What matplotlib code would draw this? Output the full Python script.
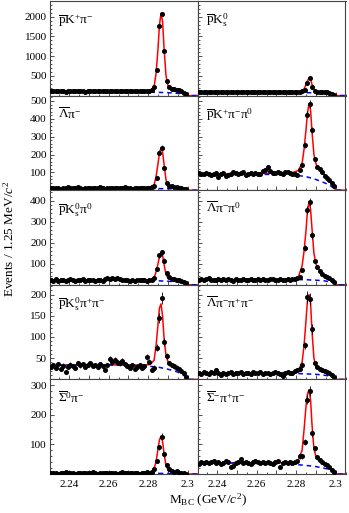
import numpy as np
import matplotlib
matplotlib.use('Agg')
import matplotlib.pyplot as plt
from matplotlib.ticker import MultipleLocator, AutoMinorLocator, FuncFormatter

plt.rcParams['font.family'] = ['Liberation Serif', 'DejaVu Serif']
plt.rcParams['mathtext.fontset'] = 'custom'
plt.rcParams['mathtext.rm'] = 'Liberation Serif'
plt.rcParams['mathtext.it'] = 'Liberation Serif:italic'
plt.rcParams['mathtext.bf'] = 'Liberation Serif:bold'

# bins of 1.25 MeV starting at 2.23 GeV
bin_width = 0.00125
bin_centers = 2.230625 + bin_width * np.arange(56)

# nodes of the fit curves
curve_x = [2.2300, 2.2400, 2.2500, 2.2600, 2.2700, 2.2780, 2.2810, 2.2830, 2.2840, 2.2850,
           2.2857, 2.2865, 2.2873, 2.2880, 2.2890, 2.2900, 2.2910, 2.2930, 2.2950, 2.2970,
           2.2985, 2.3000, 2.3050]
bkg_x = [2.230, 2.240, 2.250, 2.260, 2.270, 2.280, 2.285, 2.290, 2.294, 2.297, 2.299, 2.300, 2.305]

labels = [r'$\overline{\rm p}$K$^{+}$π$^{-}$', r'$\overline{\rm p}$K$^{0}_{\rm s}$',
          r'$\overline{\rm Λ}$π$^{-}$', r'$\overline{\rm p}$K$^{+}$π$^{-}$π$^{0}$',
          r'$\overline{\rm p}$K$^{0}_{\rm s}$π$^{0}$', r'$\overline{\rm Λ}$π$^{-}$π$^{0}$',
          r'$\overline{\rm p}$K$^{0}_{\rm s}$π$^{+}$π$^{-}$', r'$\overline{\rm Λ}$π$^{-}$π$^{+}$π$^{-}$',
          r'$\overline{\rm Σ}^{0}$π$^{-}$', r'$\overline{\rm Σ}^{-}$π$^{+}$π$^{-}$']

row_ymax = [2400, 530, 450, 223, 320]
row_major = [500, 100, 100, 50, 100]

# data points (events per bin)
pkpi = [112, 105, 118, 108, 110, 122, 104, 115, 109, 113, 120, 107, 111, 116, 103, 118, 112, 109,
        121, 106, 114, 110, 117, 108, 113, 119, 105, 111, 116, 109, 114, 107, 112, 118, 110, 106,
        115, 111, 108, 117, 120, 135,
        210, 650, 1760, 2080, 1130, 380, 215, 180, 165, 150, 130, 110, 75, 30]
pks = [88, 95, 82, 91, 97, 86, 90, 84, 93, 99, 87, 92, 85, 90, 96, 83, 91, 88, 94, 86, 92, 98,
       85, 89, 93, 87, 95, 90, 84, 91, 97, 88, 86, 92, 89, 95, 87, 90, 93, 88, 92, 98,
       105, 150, 320, 450, 220, 110, 95, 92, 88, 85, 80, 70, 50, 20]
lampi = [13, 10, 15, 12, 9, 14, 11, 16, 12, 10, 13, 17, 11, 9, 14, 12, 15, 10, 13, 11, 16, 12,
         9, 14, 13, 11, 15, 10, 12, 14, 16, 11, 13, 9, 12, 15, 11, 14, 10, 13, 12, 16,
         22, 69, 210, 238, 122, 41, 26, 22, 19, 17, 15, 12, 9, 4]
pkpipi0 = [94, 88, 92, 97, 90, 85, 93, 99, 76, 88, 95, 82, 86, 91, 100, 97, 89, 94, 102, 87, 93,
           96, 90, 98, 92, 88, 105, 112, 131, 107, 99, 94, 100, 96, 91, 104, 100, 95, 88, 92, 85, 115,
           141, 254, 423, 483, 338, 173, 131, 118, 103, 81, 69, 56, 41, 23]
pkspi0 = [24, 20, 26, 19, 22, 25, 18, 23, 27, 21, 19, 24, 22, 26, 20, 23, 25, 21, 18, 24, 22, 19,
          28, 31, 26, 33, 29, 30, 27, 24, 22, 25, 20, 23, 19, 22, 24, 21, 23, 20, 22, 25,
          30, 75, 140, 155, 115, 55, 35, 28, 26, 24, 21, 18, 14, 7]
lampipi0 = [24, 28, 22, 26, 30, 23, 25, 21, 27, 24, 29, 22, 26, 24, 20, 27, 25, 23, 28, 22, 25,
            26, 21, 24, 27, 23, 29, 25, 22, 26, 28, 24, 23, 27, 21, 25, 26, 24, 28, 26, 30, 38,
            72, 176, 354, 394, 235, 112, 86, 67, 51, 43, 35, 32, 22, 14]
pkspipi = [30, 34, 28, 36, 25, 32, 17, 29, 35, 31, 27, 38, 33, 36, 30, 35, 38, 32, 34, 29, 36,
           31, 21, 33, 48, 42, 45, 40, 39, 44, 36, 32, 28, 34, 25, 30, 33, 27, 31, 52, 42, 22,
           28, 75, 145, 192, 88, 55, 38, 34, 31, 28, 25, 20, 14, 6]
lampipipi = [16, 13, 18, 14, 12, 17, 15, 21, 14, 11, 16, 13, 15, 18, 12, 16, 14, 17, 13, 15, 16,
             12, 18, 14, 15, 17, 13, 16, 14, 12, 15, 18, 16, 13, 9, 15, 17, 14, 16, 19, 22, 24,
             35, 80, 195, 190, 119, 38, 29, 25, 22, 20, 18, 14, 10, 5]
sig0pi = [3, 2, 5, 1, 4, 3, 6, 2, 3, 4, 1, 5, 3, 2, 4, 3, 2, 6, 3, 1, 4, 2, 3, 5, 2, 3, 4, 1, 3,
          6, 2, 4, 3, 2, 5, 3, 1, 4, 3, 6, 5, 8,
          16, 45, 90, 126, 66, 30, 16, 10, 8, 9, 5, 4, 3, 1]
sigpipi = [35, 40, 38, 42, 36, 39, 44, 37, 41, 35, 38, 43, 39, 24, 27, 36, 40, 50, 38, 42, 37,
           35, 41, 44, 39, 36, 40, 38, 42, 37, 35, 39, 44, 22, 36, 41, 38, 40, 37, 42, 45, 60,
           60, 109, 252, 281, 137, 87, 56, 47, 41, 35, 30, 25, 15, 6]

# total fit (red) at curve_x
fit_pkpi = [108, 110, 111, 112, 113, 115, 130, 230, 560, 1200, 1780, 2090, 1880, 1250, 520, 260,
            200, 165, 140, 110, 75, 0, 0]
fit_pks = [90, 90, 90, 90, 90, 90, 95, 110, 170, 280, 370, 450, 410, 290, 150, 100, 92, 88, 83,
           75, 55, 0, 0]
fit_lampi = [12, 12, 12, 12, 12, 13, 15, 30, 75, 150, 205, 236, 215, 150, 60, 30, 22, 18, 15, 12,
             8, 0, 0]
fit_pkpipi0 = [90, 92, 93, 94, 95, 98, 110, 150, 230, 340, 430, 485, 450, 330, 200, 150, 125, 103,
               77, 58, 35, 0, 0]
fit_pkspi0 = [22, 22, 23, 24, 23, 23, 25, 35, 60, 100, 135, 152, 140, 100, 50, 33, 28, 25, 22, 18,
              12, 0, 0]
fit_lampipi0 = [24, 25, 25, 25, 26, 27, 35, 90, 160, 260, 350, 395, 360, 270, 150, 100, 80, 55, 40,
                30, 18, 0, 0]
fit_pkspipi = [33, 34, 34, 34, 34, 34, 35, 45, 80, 130, 168, 178, 150, 100, 58, 42, 36, 32, 28, 22,
               14, 0, 0]
fit_lampipipi = [15, 15, 15, 15, 15, 16, 20, 40, 80, 140, 185, 200, 180, 115, 50, 30, 25, 21, 18,
                 14, 9, 0, 0]
fit_sig0pi = [3, 3, 3, 3, 3, 3, 5, 18, 42, 85, 115, 128, 110, 72, 30, 15, 10, 8, 6, 4, 2, 0, 0]
fit_sigpipi = [38, 38, 38, 38, 38, 39, 45, 80, 150, 230, 270, 285, 250, 170, 85, 60, 50, 40, 32,
               25, 15, 0, 0]

# background (blue dashed) at bkg_x
bkg_pkpi = [88, 89, 90, 90, 89, 86, 82, 74, 62, 48, 30, 0, 0]
bkg_pks = [78, 79, 80, 80, 79, 77, 74, 68, 58, 45, 28, 0, 0]
bkg_lampi = [10, 10, 10, 10, 10, 10, 9, 8, 7, 5, 3, 0, 0]
bkg_pkpipi0 = [82, 86, 88, 89, 88, 84, 76, 60, 43, 28, 12, 0, 0]
bkg_pkspi0 = [20, 20, 21, 21, 21, 20, 19, 17, 14, 11, 6, 0, 0]
bkg_lampipi0 = [23, 24, 24, 25, 25, 25, 24, 22, 19, 15, 10, 0, 0]
bkg_pkspipi = [33, 34, 34, 34, 33, 31, 29, 24, 19, 13, 6, 0, 0]
bkg_lampipipi = [14, 14, 15, 15, 15, 14, 13, 12, 10, 8, 5, 0, 0]
bkg_sig0pi = [2, 2, 2, 2, 2, 2, 2, 2, 1.5, 1, 0.5, 0, 0]
bkg_sigpipi = [37, 37, 37, 36, 35, 32, 29, 25, 20, 15, 9, 0, 0]

data = [pkpi, pks, lampi, pkpipi0, pkspi0, lampipi0, pkspipi, lampipipi, sig0pi, sigpipi]
fits = [fit_pkpi, fit_pks, fit_lampi, fit_pkpipi0, fit_pkspi0, fit_lampipi0, fit_pkspipi,
        fit_lampipipi, fit_sig0pi, fit_sigpipi]
bkgs = [bkg_pkpi, bkg_pks, bkg_lampi, bkg_pkpipi0, bkg_pkspi0, bkg_lampipi0, bkg_pkspipi,
        bkg_lampipipi, bkg_sig0pi, bkg_sigpipi]

W, H = 349, 513
fig = plt.figure(figsize=(W / 100, H / 100), dpi=100)

col_x = [49.5, 197.5]
col_w = 148
row_h = 94.6
top0 = 1.0


def xfmt(v, p):
    k = int(round(v / 0.01))
    if k % 2:
        return ''
    return '%g' % round(v, 2)


def yfmt(v, p):
    if abs(v) < 1e-9:
        return ''
    return '%g' % v


for i in range(10):
    row, col = i // 2, i % 2
    top = top0 + row * row_h
    ax = fig.add_axes([col_x[col] / W, 1 - (top + row_h) / H, col_w / W, row_h / H])
    y = np.array(data[i], dtype=float)
    ax.plot(curve_x, fits[i], color='red', lw=1.1, zorder=2)
    ax.plot(bkg_x, bkgs[i], color='blue', lw=1.1, ls=(0, (3, 2.5)), zorder=2.5)
    ax.errorbar(bin_centers, y, yerr=np.sqrt(y), fmt='o', ms=2.6, color='black',
                elinewidth=0.6, capsize=0, zorder=3)
    ax.set_xlim(2.23, 2.305)
    ax.set_ylim(0, row_ymax[row])
    ax.xaxis.set_major_locator(MultipleLocator(0.01))
    ax.xaxis.set_minor_locator(MultipleLocator(0.005))
    ax.xaxis.set_major_formatter(FuncFormatter(xfmt))
    ax.yaxis.set_major_locator(MultipleLocator(row_major[row]))
    ax.yaxis.set_minor_locator(AutoMinorLocator(5))
    ax.yaxis.set_major_formatter(FuncFormatter(yfmt))
    ax.tick_params(which='both', direction='in', labelsize=8, width=0.6, color='#333333')
    ax.tick_params(which='major', length=3.2, pad=2)
    ax.tick_params(which='minor', length=1.6)
    ax.tick_params(axis='x', pad=4)
    if row < 4:
        ax.tick_params(axis='x', labelbottom=False)
    if col == 1:
        ax.tick_params(axis='y', labelleft=False)
    for s in ax.spines.values():
        s.set_linewidth(0.8)
        s.set_color('#444444')
    ax.text(0.055, 0.885, labels[i], transform=ax.transAxes, fontsize=9.5,
            ha='left', va='top')

fig.text(9 / W, 1 - 239 / H, r'Events / 1.25 MeV/$c^{2}$', rotation=90, fontsize=9.5,
         ha='center', va='center')
fig.text(208 / W, 1 - 500 / H, r'M$_{\rm BC}$ (GeV/$c^{2}$)', fontsize=9.5,
         ha='center', va='center')

fig.savefig('out.png', dpi=100)
